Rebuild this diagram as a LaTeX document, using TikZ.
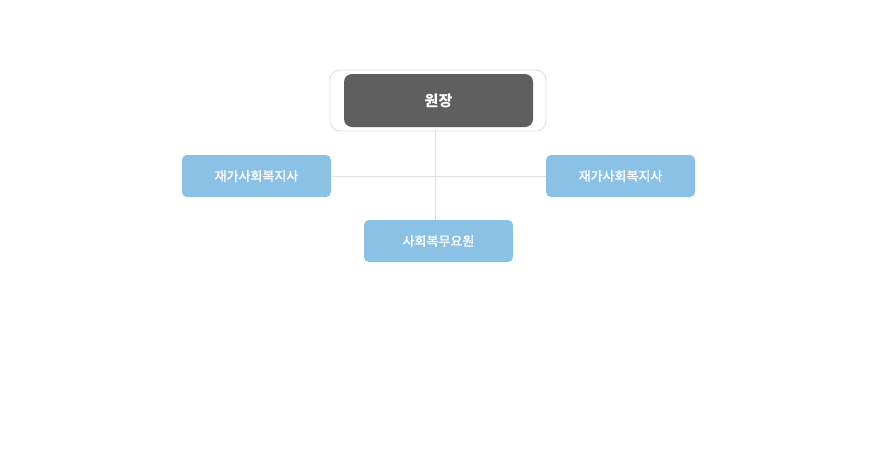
\documentclass[tikz,border=0pt]{standalone}
\usepackage{fontspec}
\newfontfamily\kr{Noto Sans CJK KR}
\newfontfamily\krm[FakeBold=1.2]{Noto Sans CJK KR}
\definecolor{darkbox}{HTML}{5F5F5F}
\definecolor{bluebox}{HTML}{8AC1E4}
\definecolor{lineclr}{HTML}{E0E0E0}
\definecolor{outerclr}{HTML}{DDDDDD}
\begin{document}
\begin{tikzpicture}[x=1pt,y=-1pt,
  bluenode/.style={fill=bluebox, rounded corners=5pt, minimum width=149pt, minimum height=42pt, inner sep=0pt, text=white, font=\krm\fontsize{13}{15}\selectfont},
  headnode/.style={fill=darkbox, rounded corners=8pt, minimum width=189pt, minimum height=53pt, inner sep=0pt, text=white, font=\kr\bfseries\fontsize{15}{17}\selectfont},
  outernode/.style={draw=outerclr, line width=0.8pt, fill=white, rounded corners=10pt, minimum width=216pt, minimum height=61pt, inner sep=0pt},
  conn/.style={draw=lineclr, line width=1pt}]
\useasboundingbox (0,0) rectangle (877,450);
\node[outernode] (outer) at (438,100.5) {};
\coordinate (hub) at (435,176);
\node[bluenode] (left) at (256.5,176) {재가사회복지사};
\node[bluenode] (right) at (620.5,176) {재가사회복지사};
\node[bluenode] (bottom) at (438.5,241) {사회복무요원};
\draw[conn] (outer.south -| hub) -- (bottom.north -| hub);
\draw[conn] (left.east) -- (right.west);
\node[headnode] (head) at (438.5,100.5) {원장};
\end{tikzpicture}
\end{document}
